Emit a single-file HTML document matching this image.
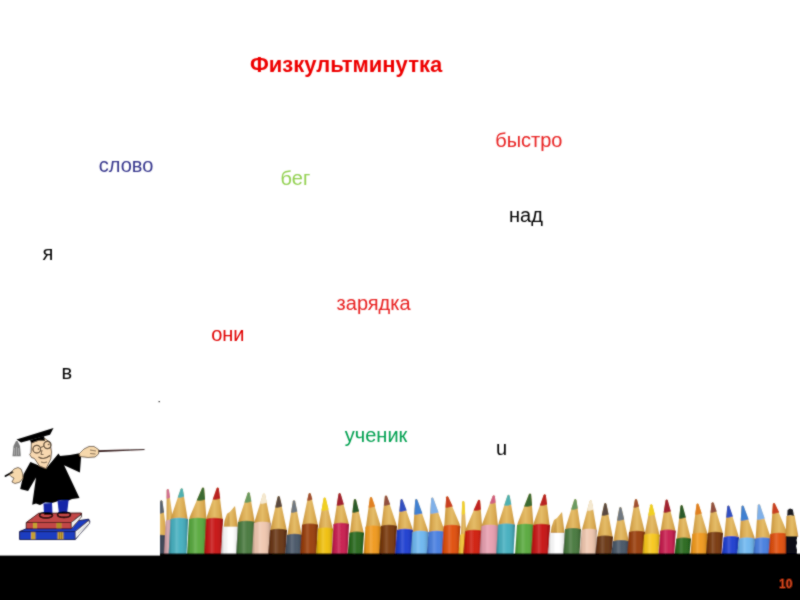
<!DOCTYPE html>
<html><head><meta charset="utf-8"><style>
html,body{margin:0;padding:0;}
body{width:800px;height:600px;position:relative;overflow:hidden;background:#fff;font-family:"Liberation Sans",sans-serif;}
.abs{position:absolute;}
.t{position:absolute;line-height:1;white-space:nowrap;}
#wrap{position:absolute;left:0;top:0;width:800px;height:600px;filter:url(#soft);}
</style></head><body><svg width="0" height="0" style="position:absolute"><defs><filter id="soft" x="0" y="0" width="100%" height="100%" filterUnits="objectBoundingBox"><feConvolveMatrix order="3" kernelMatrix="1 2 1 2 12 2 1 2 1" divisor="24" edgeMode="duplicate"/></filter></defs></svg><div id="wrap">
<div class="t" style="left:250px;top:53.7px;font-size:22px;font-weight:bold;color:#EE0000">Физкультминутка</div><div class="t" style="left:98.8px;top:154.5px;font-size:20px;font-weight:normal;color:#35358C">слово</div><div class="t" style="left:495.2px;top:129.7px;font-size:20px;font-weight:normal;color:#E82020">быстро</div><div class="t" style="left:280.6px;top:167.5px;font-size:20px;font-weight:normal;color:#92D050">бег</div><div class="t" style="left:509px;top:205.2px;font-size:20px;font-weight:normal;color:#000000">над</div><div class="t" style="left:42.5px;top:243.1px;font-size:20px;font-weight:normal;color:#000000">я</div><div class="t" style="left:336.6px;top:292.8px;font-size:20px;font-weight:normal;color:#E82020">зарядка</div><div class="t" style="left:211.2px;top:324.2px;font-size:20px;font-weight:normal;color:#E00000">они</div><div class="t" style="left:61.5px;top:362px;font-size:20px;font-weight:normal;color:#000000">в</div><div class="t" style="left:344.8px;top:425.4px;font-size:20px;font-weight:normal;color:#00A050">ученик</div><div class="t" style="left:496px;top:437.6px;font-size:20px;font-weight:normal;color:#000000">u</div>
<svg class="abs" style="left:0;top:0" width="800" height="600" viewBox="0 0 800 600">
<defs>
<linearGradient id="shade" x1="0" x2="1" y1="0" y2="0"><stop offset="0" stop-color="#000" stop-opacity="0.28"/><stop offset="0.18" stop-color="#000" stop-opacity="0.05"/><stop offset="0.4" stop-color="#fff" stop-opacity="0.14"/><stop offset="0.6" stop-color="#fff" stop-opacity="0.02"/><stop offset="0.88" stop-color="#000" stop-opacity="0.1"/><stop offset="1" stop-color="#000" stop-opacity="0.3"/></linearGradient>
<linearGradient id="wood" x1="0" x2="1" y1="0" y2="0"><stop offset="0" stop-color="#C49038"/><stop offset="0.3" stop-color="#DCAE58"/><stop offset="0.5" stop-color="#E4BC68"/><stop offset="0.8" stop-color="#D8A850"/><stop offset="1" stop-color="#C08C38"/></linearGradient>
<clipPath id="pc"><rect x="160" y="470" width="640" height="86"/></clipPath></defs>
<g clip-path="url(#pc)"><path d="M153.0 538L153.7 534L160.20000000000002 501.3Q161.3 499.3 162.4 501.3L166.8 534L167.5 538Z" fill="url(#wood)"/><path d="M157.71 513.4L160.20000000000002 501.3Q161.3 499.3 162.4 501.3L164.08 512.6Q161.3 514.2 157.71 513.4Z" fill="#5A6470"/><path d="M153.0 536Q160.25 533.5 167.5 536L165.9 556L151.0 556Z" fill="#3A4454"/><path d="M153.0 536Q160.25 533.5 167.5 536L165.9 556L151.0 556Z" fill="url(#shade)"/><path d="M165.8 523L166.5 519L166.70000000000002 490.0Q167.8 488.0 168.9 490.0L172.8 519L173.5 523Z" fill="url(#wood)"/><path d="M166.64 498.4L166.70000000000002 490.0Q167.8 488.0 168.9 490.0L170.10 497.6Q167.8 499.2 166.64 498.4Z" fill="#D07090"/><path d="M165.8 521Q169.65 518.5 173.5 521L171.9 556L163.8 556Z" fill="#D0A0A8"/><path d="M165.8 521Q169.65 518.5 173.5 521L171.9 556L163.8 556Z" fill="url(#shade)"/><path d="M170.5 521L171.2 517L180.6 489.3Q181.7 487.3 182.79999999999998 489.3L187.3 517L188.0 521Z" fill="url(#wood)"/><path d="M177.68 497.4L180.6 489.3Q181.7 487.3 182.79999999999998 489.3L184.20 496.6Q181.7 498.2 177.68 497.4Z" fill="#50B0B0"/><path d="M170.5 519Q179.25 516.5 188.0 519L186.4 556L168.5 556Z" fill="#48B0C0"/><path d="M170.5 519Q179.25 516.5 188.0 519L186.4 556L168.5 556Z" fill="url(#shade)"/><path d="M189.0 521L189.7 517L201.9 488.6Q203 486.6 204.1 488.6L206.3 517L207.0 521Z" fill="url(#wood)"/><path d="M196.68 500.4L201.9 488.6Q203 486.6 204.1 488.6L205.04 499.6Q203 501.2 196.68 500.4Z" fill="#3A6A30"/><path d="M189.0 519Q198.0 516.5 207.0 519L205.4 556L187.0 556Z" fill="#5AAA40"/><path d="M189.0 519Q198.0 516.5 207.0 519L205.4 556L187.0 556Z" fill="url(#shade)"/><path d="M206.0 521L206.7 517L216.6 488.6Q217.7 486.6 218.79999999999998 488.6L222.3 517L223.0 521Z" fill="url(#wood)"/><path d="M212.70 499.4L216.6 488.6Q217.7 486.6 218.79999999999998 488.6L220.18 498.6Q217.7 500.2 212.70 499.4Z" fill="#B82020"/><path d="M206.0 519Q214.5 516.5 223.0 519L221.4 556L204.0 556Z" fill="#C81818"/><path d="M206.0 519Q214.5 516.5 223.0 519L221.4 556L204.0 556Z" fill="url(#shade)"/><path d="M223.5 527.7L224.5 520.7L227 513.7L230 511.70000000000005L235 506L237.5 523.7L238 527.7Z" fill="url(#wood)"/><path d="M226 526.7L229 512.7L230 526.7Z" fill="#B88838" opacity="0.5"/><path d="M223.0 526.7L239.0 526.7L237.0 556L221.0 556Z" fill="#FFFFFF"/><path d="M223.0 526.7L239.0 526.7L237.0 556L221.0 556Z" fill="url(#shade)"/><path d="M238.0 524L238.7 520L247.6 493.3Q248.7 491.3 249.79999999999998 493.3L254.3 520L255.0 524Z" fill="url(#wood)"/><path d="M244.42 502.4L247.6 493.3Q248.7 491.3 249.79999999999998 493.3L251.41 501.6Q248.7 503.2 244.42 502.4Z" fill="#6A9A60"/><path d="M238.0 522Q246.5 519.5 255.0 522L253.4 556L236.0 556Z" fill="#4A7A40"/><path d="M238.0 522Q246.5 519.5 255.0 522L253.4 556L236.0 556Z" fill="url(#shade)"/><path d="M254.0 525L254.7 521L262.9 494.6Q264 492.6 265.1 494.6L270.3 521L271.0 525Z" fill="url(#wood)"/><path d="M260.03 503.4L262.9 494.6Q264 492.6 265.1 494.6L266.92 502.6Q264 504.2 260.03 503.4Z" fill="#F4E8D0"/><path d="M254.0 523Q262.5 520.5 271.0 523L269.4 556L252.0 556Z" fill="#F0C8B0"/><path d="M254.0 523Q262.5 520.5 271.0 523L269.4 556L252.0 556Z" fill="url(#shade)"/><path d="M270.0 532L270.7 528L277.59999999999997 497.0Q278.7 495.0 279.8 497.0L286.3 528L287.0 532Z" fill="url(#wood)"/><path d="M275.19 507.4L277.59999999999997 497.0Q278.7 495.0 279.8 497.0L282.07 506.6Q278.7 508.2 275.19 507.4Z" fill="#5A4A40"/><path d="M270.0 530Q278.5 527.5 287.0 530L285.4 556L268.0 556Z" fill="#6A3818"/><path d="M270.0 530Q278.5 527.5 287.0 530L285.4 556L268.0 556Z" fill="url(#shade)"/><path d="M287.0 537L287.7 533L292.9 501.3Q294 499.3 295.1 501.3L301.3 533L302.0 537Z" fill="url(#wood)"/><path d="M291.01 512.4L292.9 501.3Q294 499.3 295.1 501.3L297.35 511.6Q294 513.2 291.01 512.4Z" fill="#707880"/><path d="M287.0 535Q294.5 532.5 302.0 535L300.4 556L285.0 556Z" fill="#4A5868"/><path d="M287.0 535Q294.5 532.5 302.0 535L300.4 556L285.0 556Z" fill="url(#shade)"/><path d="M302.0 526.7L302.7 522.7L308.59999999999997 494.0Q309.7 492.0 310.8 494.0L317.3 522.7L318.0 526.7Z" fill="url(#wood)"/><path d="M307.16 500.4L308.59999999999997 494.0Q309.7 492.0 310.8 494.0L312.38 499.6Q309.7 501.2 307.16 500.4Z" fill="#A05030"/><path d="M302.0 524.7Q310.0 522.2 318.0 524.7L316.4 556L300.0 556Z" fill="#9A4010"/><path d="M302.0 524.7Q310.0 522.2 318.0 524.7L316.4 556L300.0 556Z" fill="url(#shade)"/><path d="M318.0 530.7L318.7 526.7L323.59999999999997 498.6Q324.7 496.6 325.8 498.6L332.3 526.7L333.0 530.7Z" fill="url(#wood)"/><path d="M321.48 510.4L323.59999999999997 498.6Q324.7 496.6 325.8 498.6L328.61 509.6Q324.7 511.2 321.48 510.4Z" fill="#F0D020"/><path d="M318.0 528.7Q325.5 526.2 333.0 528.7L331.4 556L316.0 556Z" fill="#F0C010"/><path d="M318.0 528.7Q325.5 526.2 333.0 528.7L331.4 556L316.0 556Z" fill="url(#shade)"/><path d="M333.5 526L334.2 522L338.5 494.0Q339.6 492.0 340.70000000000005 494.0L348.3 522L349.0 526Z" fill="url(#wood)"/><path d="M336.69 505.4L338.5 494.0Q339.6 492.0 340.70000000000005 494.0L343.89 504.6Q339.6 506.2 336.69 505.4Z" fill="#A02030"/><path d="M333.5 524Q341.25 521.5 349.0 524L347.4 556L331.5 556Z" fill="#C82050"/><path d="M333.5 524Q341.25 521.5 349.0 524L347.4 556L331.5 556Z" fill="url(#shade)"/><path d="M349.5 534.7L350.2 530.7L353.9 500.0Q355 498.0 356.1 500.0L363.3 530.7L364.0 534.7Z" fill="url(#wood)"/><path d="M352.36 512.4L353.9 500.0Q355 498.0 356.1 500.0L359.09 511.6Q355 513.2 352.36 512.4Z" fill="#2A5A2A"/><path d="M349.5 532.7Q356.75 530.2 364.0 532.7L362.4 556L347.5 556Z" fill="#2A6A20"/><path d="M349.5 532.7Q356.75 530.2 364.0 532.7L362.4 556L347.5 556Z" fill="url(#shade)"/><path d="M365.5 528.7L366.2 524.7L369.9 498.0Q371 496.0 372.1 498.0L380.3 524.7L381.0 528.7Z" fill="url(#wood)"/><path d="M368.54 507.4L369.9 498.0Q371 496.0 372.1 498.0L375.12 506.6Q371 508.2 368.54 507.4Z" fill="#E08020"/><path d="M365.5 526.7Q373.25 524.2 381.0 526.7L379.4 556L363.5 556Z" fill="#F09A20"/><path d="M365.5 526.7Q373.25 524.2 381.0 526.7L379.4 556L363.5 556Z" fill="url(#shade)"/><path d="M381.0 528L381.7 524L384.9 496.6Q386 494.6 387.1 496.6L396.3 524L397.0 528Z" fill="url(#wood)"/><path d="M383.82 505.4L384.9 496.6Q386 494.6 387.1 496.6L390.21 504.6Q386 506.2 383.82 505.4Z" fill="#905040"/><path d="M381.0 526Q389.0 523.5 397.0 526L395.4 556L379.0 556Z" fill="#7A3A10"/><path d="M381.0 526Q389.0 523.5 397.0 526L395.4 556L379.0 556Z" fill="url(#shade)"/><path d="M397.0 532L397.7 528L400.5 500.0Q401.6 498.0 402.70000000000005 500.0L412.3 528L413.0 532Z" fill="url(#wood)"/><path d="M399.32 511.4L400.5 500.0Q401.6 498.0 402.70000000000005 500.0L406.73 510.6Q401.6 512.2 399.32 511.4Z" fill="#3050C0"/><path d="M397.0 530Q405.0 527.5 413.0 530L411.4 556L395.0 556Z" fill="#2040D0"/><path d="M397.0 530Q405.0 527.5 413.0 530L411.4 556L395.0 556Z" fill="url(#shade)"/><path d="M412.5 534L413.2 530L415.2 500.0Q416.3 498.0 417.40000000000003 500.0L427.8 530L428.5 534Z" fill="url(#wood)"/><path d="M414.22 514.4L415.2 500.0Q416.3 498.0 417.40000000000003 500.0L422.48 513.6Q416.3 515.2 414.22 514.4Z" fill="#4080D0"/><path d="M412.5 532Q420.5 529.5 428.5 532L426.9 556L410.5 556Z" fill="#70B8F0"/><path d="M412.5 532Q420.5 529.5 428.5 532L426.9 556L410.5 556Z" fill="url(#shade)"/><path d="M428.5 534L429.2 530L431.2 498.6Q432.3 496.6 433.40000000000003 498.6L444.3 530L445.0 534Z" fill="url(#wood)"/><path d="M430.24 513.4L431.2 498.6Q432.3 496.6 433.40000000000003 498.6L438.63 512.6Q432.3 514.2 430.24 513.4Z" fill="#80B0E8"/><path d="M428.5 532Q436.75 529.5 445.0 532L443.4 556L426.5 556Z" fill="#4A80E0"/><path d="M428.5 532Q436.75 529.5 445.0 532L443.4 556L426.5 556Z" fill="url(#shade)"/><path d="M443.7 528L444.4 524L446.2 497.3Q447.3 495.3 448.40000000000003 497.3L459.6 524L460.3 528Z" fill="url(#wood)"/><path d="M445.49 507.4L446.2 497.3Q447.3 495.3 448.40000000000003 497.3L452.80 506.6Q447.3 508.2 445.49 507.4Z" fill="#C84020"/><path d="M443.7 526Q452.0 523.5 460.3 526L458.7 556L441.7 556Z" fill="#E05010"/><path d="M443.7 526Q452.0 523.5 460.3 526L458.7 556L441.7 556Z" fill="url(#shade)"/><path d="M460.3 537L461.0 533L462.2 502.0Q463.3 500.0 464.40000000000003 502.0L466.3 533L467.0 537Z" fill="url(#wood)"/><path d="M461.71 514.4L462.2 502.0Q463.3 500.0 464.40000000000003 502.0L465.18 513.6Q463.3 515.2 461.71 514.4Z" fill="#F0D030"/><path d="M460.3 535Q463.65 532.5 467.0 535L465.4 556L458.3 556Z" fill="#F0C030"/><path d="M460.3 535Q463.65 532.5 467.0 535L465.4 556L458.3 556Z" fill="url(#shade)"/><path d="M465.0 533L465.7 529L477.9 500.7Q479 498.7 480.1 500.7L482.3 529L483.0 533Z" fill="url(#wood)"/><path d="M473.53 510.4L477.9 500.7Q479 498.7 480.1 500.7L480.89 509.6Q479 511.2 473.53 510.4Z" fill="#C02020"/><path d="M465.0 531Q474.0 528.5 483.0 531L481.4 556L463.0 556Z" fill="#D02010"/><path d="M465.0 531Q474.0 528.5 483.0 531L481.4 556L463.0 556Z" fill="url(#shade)"/><path d="M481.5 528L482.2 524L492.65 496.3Q493.75 494.3 494.85 496.3L497.8 524L498.5 528Z" fill="url(#wood)"/><path d="M489.77 503.4L492.65 496.3Q493.75 494.3 494.85 496.3L495.66 502.6Q493.75 504.2 489.77 503.4Z" fill="#D06080"/><path d="M481.5 526Q490.0 523.5 498.5 526L496.9 556L479.5 556Z" fill="#E8A0B0"/><path d="M481.5 526Q490.0 523.5 498.5 526L496.9 556L479.5 556Z" fill="url(#shade)"/><path d="M498.0 526.7L498.7 522.7L507.4 495.7Q508.5 493.7 509.6 495.7L514.3 522.7L515.0 526.7Z" fill="url(#wood)"/><path d="M504.14 505.4L507.4 495.7Q508.5 493.7 509.6 495.7L511.36 504.6Q508.5 506.2 504.14 505.4Z" fill="#50B0B0"/><path d="M498.0 524.7Q506.5 522.2 515.0 524.7L513.4 556L496.0 556Z" fill="#48B0C0"/><path d="M498.0 524.7Q506.5 522.2 515.0 524.7L513.4 556L496.0 556Z" fill="url(#shade)"/><path d="M517.0 527L517.7 523L528.9 494.6Q530 492.6 531.1 494.6L533.3 523L534.0 527Z" fill="url(#wood)"/><path d="M524.11 506.4L528.9 494.6Q530 492.6 531.1 494.6L532.04 505.6Q530 507.2 524.11 506.4Z" fill="#3A6A30"/><path d="M517.0 525Q525.5 522.5 534.0 525L532.4 556L515.0 556Z" fill="#5AAA40"/><path d="M517.0 525Q525.5 522.5 534.0 525L532.4 556L515.0 556Z" fill="url(#shade)"/><path d="M533.0 527L533.7 523L543.6 495.3Q544.7 493.3 545.8000000000001 495.3L549.3 523L550.0 527Z" fill="url(#wood)"/><path d="M539.84 505.4L543.6 495.3Q544.7 493.3 545.8000000000001 495.3L547.13 504.6Q544.7 506.2 539.84 505.4Z" fill="#B82020"/><path d="M533.0 525Q541.5 522.5 550.0 525L548.4 556L531.0 556Z" fill="#C81818"/><path d="M533.0 525Q541.5 522.5 550.0 525L548.4 556L531.0 556Z" fill="url(#shade)"/><path d="M550.5 534L551.5 527L554 520L557 518L562 512L564.2 530L564.7 534Z" fill="url(#wood)"/><path d="M553 533L556 519L557 533Z" fill="#B88838" opacity="0.5"/><path d="M550.0 533L565.7 533L563.7 556L548.0 556Z" fill="#FFFFFF"/><path d="M550.0 533L565.7 533L563.7 556L548.0 556Z" fill="url(#shade)"/><path d="M565.0 531.3L565.7 527.3L574.1999999999999 500.0Q575.3 498.0 576.4 500.0L580.3 527.3L581.0 531.3Z" fill="url(#wood)"/><path d="M571.14 509.4L574.1999999999999 500.0Q575.3 498.0 576.4 500.0L577.80 508.6Q575.3 510.2 571.14 509.4Z" fill="#6A9A60"/><path d="M565.0 529.3Q573.0 526.8 581.0 529.3L579.4 556L563.0 556Z" fill="#4A7A40"/><path d="M565.0 529.3Q573.0 526.8 581.0 529.3L579.4 556L563.0 556Z" fill="url(#shade)"/><path d="M581.7 532L582.4000000000001 528L589.6 501.3Q590.7 499.3 591.8000000000001 501.3L596.3 528L597.0 532Z" fill="url(#wood)"/><path d="M587.03 510.4L589.6 501.3Q590.7 499.3 591.8000000000001 501.3L593.41 509.6Q590.7 511.2 587.03 510.4Z" fill="#F4E8D0"/><path d="M581.7 530Q589.35 527.5 597.0 530L595.4 556L579.7 556Z" fill="#F0C8B0"/><path d="M581.7 530Q589.35 527.5 597.0 530L595.4 556L579.7 556Z" fill="url(#shade)"/><path d="M597.0 538.7L597.7 534.7L604.1999999999999 504.0Q605.3 502.0 606.4 504.0L612.3 534.7L613.0 538.7Z" fill="url(#wood)"/><path d="M601.70 515.4L604.1999999999999 504.0Q605.3 502.0 606.4 504.0L608.67 514.6Q605.3 516.2 601.70 515.4Z" fill="#5A4A40"/><path d="M597.0 536.7Q605.0 534.2 613.0 536.7L611.4 556L595.0 556Z" fill="#6A3818"/><path d="M597.0 536.7Q605.0 534.2 613.0 536.7L611.4 556L595.0 556Z" fill="url(#shade)"/><path d="M613.0 543.3L613.7 539.3L619.3 508.0Q620.4 506.0 621.5 508.0L628.3 539.3L629.0 543.3Z" fill="url(#wood)"/><path d="M617.02 520.4L619.3 508.0Q620.4 506.0 621.5 508.0L624.27 519.6Q620.4 521.2 617.02 520.4Z" fill="#707880"/><path d="M613.0 541.3Q621.0 538.8 629.0 541.3L627.4 556L611.0 556Z" fill="#4A5868"/><path d="M613.0 541.3Q621.0 538.8 629.0 541.3L627.4 556L611.0 556Z" fill="url(#shade)"/><path d="M629.0 534L629.7 530L634.9 500.0Q636 498.0 637.1 500.0L644.3 530L645.0 534Z" fill="url(#wood)"/><path d="M633.52 507.4L634.9 500.0Q636 498.0 637.1 500.0L639.01 506.6Q636 508.2 633.52 507.4Z" fill="#A05030"/><path d="M629.0 532Q637.0 529.5 645.0 532L643.4 556L627.0 556Z" fill="#9A4010"/><path d="M629.0 532Q637.0 529.5 645.0 532L643.4 556L627.0 556Z" fill="url(#shade)"/><path d="M644.3 536.7L645.0 532.7L650.1999999999999 505.3Q651.3 503.3 652.4 505.3L659.0 532.7L659.7 536.7Z" fill="url(#wood)"/><path d="M648.21 515.4L650.1999999999999 505.3Q651.3 503.3 652.4 505.3L654.93 514.6Q651.3 516.2 648.21 515.4Z" fill="#F0D020"/><path d="M644.3 534.7Q652.0 532.2 659.7 534.7L658.1 556L642.3 556Z" fill="#F8C820"/><path d="M644.3 534.7Q652.0 532.2 659.7 534.7L658.1 556L642.3 556Z" fill="url(#shade)"/><path d="M660.3 532.7L661.0 528.7L665.6 500.6Q666.7 498.6 667.8000000000001 500.6L675.0 528.7L675.7 532.7Z" fill="url(#wood)"/><path d="M663.61 512.4L665.6 500.6Q666.7 498.6 667.8000000000001 500.6L670.91 511.6Q666.7 513.2 663.61 512.4Z" fill="#A02030"/><path d="M660.3 530.7Q668.0 528.2 675.7 530.7L674.1 556L658.3 556Z" fill="#C82050"/><path d="M660.3 530.7Q668.0 528.2 675.7 530.7L674.1 556L658.3 556Z" fill="url(#shade)"/><path d="M676.3 540.7L677.0 536.7L680.5 506.0Q681.6 504.0 682.7 506.0L690.3 536.7L691.0 540.7Z" fill="url(#wood)"/><path d="M679.05 518.4L680.5 506.0Q681.6 504.0 682.7 506.0L685.86 517.6Q681.6 519.2 679.05 518.4Z" fill="#2A5A2A"/><path d="M676.3 538.7Q683.65 536.2 691.0 538.7L689.4 556L674.3 556Z" fill="#2A6A20"/><path d="M676.3 538.7Q683.65 536.2 691.0 538.7L689.4 556L674.3 556Z" fill="url(#shade)"/><path d="M692.3 536L693.0 532L696.5 504.6Q697.6 502.6 698.7 504.6L707.0 532L707.7 536Z" fill="url(#wood)"/><path d="M695.20 514.4L696.5 504.6Q697.6 502.6 698.7 504.6L701.79 513.6Q697.6 515.2 695.20 514.4Z" fill="#E08020"/><path d="M692.3 534Q700.0 531.5 707.7 534L706.1 556L690.3 556Z" fill="#F09A20"/><path d="M692.3 534Q700.0 531.5 707.7 534L706.1 556L690.3 556Z" fill="url(#shade)"/><path d="M707.7 535L708.4000000000001 531L711.6 503.3Q712.7 501.3 713.8000000000001 503.3L722.3 531L723.0 535Z" fill="url(#wood)"/><path d="M710.50 512.4L711.6 503.3Q712.7 501.3 713.8000000000001 503.3L716.73 511.6Q712.7 513.2 710.50 512.4Z" fill="#905040"/><path d="M707.7 533Q715.35 530.5 723.0 533L721.4 556L705.7 556Z" fill="#7A3A10"/><path d="M707.7 533Q715.35 530.5 723.0 533L721.4 556L705.7 556Z" fill="url(#shade)"/><path d="M723.7 539.3L724.4000000000001 535.3L727.3 506.6Q728.4 504.6 729.5 506.6L738.3 535.3L739.0 539.3Z" fill="url(#wood)"/><path d="M726.17 517.4L727.3 506.6Q728.4 504.6 729.5 506.6L732.93 516.6Q728.4 518.2 726.17 517.4Z" fill="#3050C0"/><path d="M723.7 537.3Q731.35 534.8 739.0 537.3L737.4 556L721.7 556Z" fill="#2040D0"/><path d="M723.7 537.3Q731.35 534.8 739.0 537.3L737.4 556L721.7 556Z" fill="url(#shade)"/><path d="M739.0 540.7L739.7 536.7L741.6 506.6Q742.7 504.6 743.8000000000001 506.6L754.3 536.7L755.0 540.7Z" fill="url(#wood)"/><path d="M740.71 520.4L741.6 506.6Q742.7 504.6 743.8000000000001 506.6L748.72 519.6Q742.7 521.2 740.71 520.4Z" fill="#4080D0"/><path d="M739.0 538.7Q747.0 536.2 755.0 538.7L753.4 556L737.0 556Z" fill="#70B8F0"/><path d="M739.0 538.7Q747.0 536.2 755.0 538.7L753.4 556L737.0 556Z" fill="url(#shade)"/><path d="M755.0 540.7L755.7 536.7L757.9 505.3Q759 503.3 760.1 505.3L770.3 536.7L771.0 540.7Z" fill="url(#wood)"/><path d="M756.89 519.4L757.9 505.3Q759 503.3 760.1 505.3L764.78 518.6Q759 520.2 756.89 519.4Z" fill="#80B0E8"/><path d="M755.0 538.7Q763.0 536.2 771.0 538.7L769.4 556L753.0 556Z" fill="#4A80E0"/><path d="M755.0 538.7Q763.0 536.2 771.0 538.7L769.4 556L753.0 556Z" fill="url(#shade)"/><path d="M770.3 536L771.0 532L772.9 504.0Q774 502.0 775.1 504.0L787.0 532L787.7 536Z" fill="url(#wood)"/><path d="M772.23 513.4L772.9 504.0Q774 502.0 775.1 504.0L779.28 512.6Q774 514.2 772.23 513.4Z" fill="#C84020"/><path d="M770.3 534Q779.0 531.5 787.7 534L786.1 556L768.3 556Z" fill="#E05010"/><path d="M770.3 534Q779.0 531.5 787.7 534L786.1 556L768.3 556Z" fill="url(#shade)"/><path d="M786.5 516 L794.5 515 Q796 524 798.6 536.8 L785.6 536.8 Q786 526 786.5 516Z" fill="url(#wood)"/><path d="M787.2 516 L787.6 510 L790 508.6 L792.8 509.6 L794 516 Q790.5 514.5 787.2 516Z" fill="#1c1c24"/><path d="M785.8 536.2 L797.5 536.2 L796.5 540 L797.2 543 L796 546 L797 550 L796.5 556 L785.8 556Z" fill="#0c0c14"/></g>
<rect x="798.5" y="480" width="1.5" height="76" fill="#fff"/>
<rect x="0" y="555.6" width="800" height="44.4" fill="#000"/>
<rect x="160" y="553.5" width="640" height="46.5" fill="#000"/>
</svg>

<svg class="abs" style="left:0;top:0" width="160" height="556" viewBox="0 0 160 556">
 <!-- pointer -->
 <path d="M96 450.2 L144.5 449 L144.5 450 L96 452.2Z" fill="#3a2424"/>
 <!-- gown -->
 <path d="M30.4 461.9 L46.1 468.6 L58.5 453.4 L60 456 L70 455 L81 452.9 L81 457.4 L79.9 472.6 L64.1 465.2 L79.5 498 L72 499 L67.5 501 L60 500.5 L52 503 L45 502.5 L40 505 L36 503.5 L32.2 504.75 L36 477.6 L28.1 491.1 L20.2 488.9 L23.6 474.2 Z" fill="#000"/>
 <!-- left hand -->
 <path d="M9 474.5 L14 469 L18 467.5 L21 469 L22.5 473 L23 478 L20 482 L15 483.5 L12 482 L14 478 L11 476.5Z" fill="#F6D8AC" stroke="#2a1a10" stroke-width="0.7"/>
 <path d="M5.5 476 L12.5 472.3" stroke="#000" stroke-width="1.8" stroke-linecap="round"/>
 <!-- right hand -->
 <path d="M79 454 L84 449 L89 446.5 L94 446.5 L98.5 449.5 L98.5 454 L95 457 L88 457.5 L80 456.5Z" fill="#F6D8AC" stroke="#2a1a10" stroke-width="0.7"/>
 <path d="M90 450 L96 451 M90 453.5 L95.5 454" stroke="#2a1a10" stroke-width="0.6"/>
 <!-- face -->
 <path d="M31.5 442.5 L44.8 438.5 L50 442.3 L51.5 452 L50.8 458.8 L46.1 468.6 L39.5 466 L34.5 458.5 L31.5 457.5 L29.8 454.5 L31 452.5Z" fill="#F8D8B0" stroke="#3a2a1a" stroke-width="0.8"/>
 <circle cx="36.8" cy="449.2" r="3.8" fill="none" stroke="#3a2a1a" stroke-width="1.1"/>
 <circle cx="47.4" cy="445" r="3.6" fill="none" stroke="#3a2a1a" stroke-width="1.1"/>
 <path d="M40.5 447.5 L43.8 446.3" stroke="#3a2a1a" stroke-width="0.9"/>
 <circle cx="38.5" cy="449" r="0.8" fill="#3a2a1a"/><circle cx="48.5" cy="444.5" r="0.8" fill="#3a2a1a"/>
 <path d="M42 450 L41 454.5 L43.5 454.5" fill="none" stroke="#3a2a1a" stroke-width="0.8"/>
 <path d="M38.5 457 Q44 460.5 50 455.5" fill="none" stroke="#3a2a1a" stroke-width="1.1"/>
 <path d="M41 462 Q44 463.5 47 462" fill="none" stroke="#3a2a1a" stroke-width="0.7"/>
 <!-- cap -->
 <path d="M16.5 439.5 L53.5 428 L50 434.8 L21 442.6Z" fill="#000"/>
 <path d="M30 440 L44 436 L45 441 L39 440.5 L35 442 L31.5 443.5Z" fill="#000"/>
 <!-- tassel -->
 <path d="M16 441 L13.5 446 L12.5 456.3 L20.8 456.3 L20 446 L17.5 441Z" fill="#7c7c7c"/>
 <path d="M14.5 448 L14.5 455 M16.5 447 L16.5 455.5 M18.5 448 L18.5 455" stroke="#d0d0d0" stroke-width="0.5"/>
 <!-- legs -->
 <path d="M43.5 503.5 L52 503 L52.5 514 L44 514Z" fill="#1428a8"/>
 <path d="M57.5 500.5 L68.6 500 L67 514 L59 514Z" fill="#1428a8"/>
 <!-- books -->
 <path d="M19.6 531.6 L28 528 L88.7 519.2 L89.9 522 L75.2 539.5 L19.6 539.5Z" fill="#1E3CC0" stroke="#0c0c38" stroke-width="0.9"/>
 <path d="M19.6 531.6 L75.2 531.6 L88.7 520" fill="none" stroke="#0c0c38" stroke-width="0.8"/>
 <path d="M75.2 531.6 L88.7 520.5 L89.9 523 L75.2 539.5Z" fill="#f0f0f0" stroke="#0c0c38" stroke-width="0.7"/>
 <path d="M78 533 L88.5 523.5 M78 536 L88.5 526" stroke="#b0b0b0" stroke-width="0.5"/>
 <path d="M26.3 522.5 L38.7 513.3 L81.4 513 L81.4 516 L71.3 528.8 L26.3 528.8Z" fill="#C24646" stroke="#2a0c0c" stroke-width="0.9"/>
 <path d="M26.3 522.5 L71.3 522.5 L81.4 514" fill="none" stroke="#2a0c0c" stroke-width="0.8"/>
 <path d="M71.3 522.5 L81.4 514.5 L81.4 517 L71.3 528.8Z" fill="#f0f0f0" stroke="#2a0c0c" stroke-width="0.7"/>
 <rect x="33" y="523" width="4" height="5.3" fill="#C8A030"/>
 <rect x="56.5" y="523" width="5" height="5.3" fill="#C8A030"/>
 <path d="M58 523 V528.3 M60 523 V528.3" stroke="#6a5010" stroke-width="0.5"/>
 <rect x="31" y="532.2" width="4.5" height="6.8" fill="#C8A030"/>
 <rect x="57.5" y="532.2" width="6" height="6.8" fill="#C8A030"/>
 <path d="M59.5 532.2 V539 M61.5 532.2 V539" stroke="#6a5010" stroke-width="0.5"/>
 <!-- shoes -->
 <ellipse cx="46" cy="515.3" rx="6.5" ry="2.6" fill="none" stroke="#000" stroke-width="1.6"/>
 <ellipse cx="64" cy="514.8" rx="6.5" ry="2.6" fill="none" stroke="#000" stroke-width="1.6"/>
 <path d="M44 514 L52 514 M59 513 L67 513" stroke="#000" stroke-width="1.6"/>
 <rect x="158.5" y="401" width="2" height="1.2" fill="#444"/>
</svg>
<div class="t" style="left:779px;top:577.8px;font-size:12px;font-weight:bold;color:#D8461E">10</div>
</div></body></html>
